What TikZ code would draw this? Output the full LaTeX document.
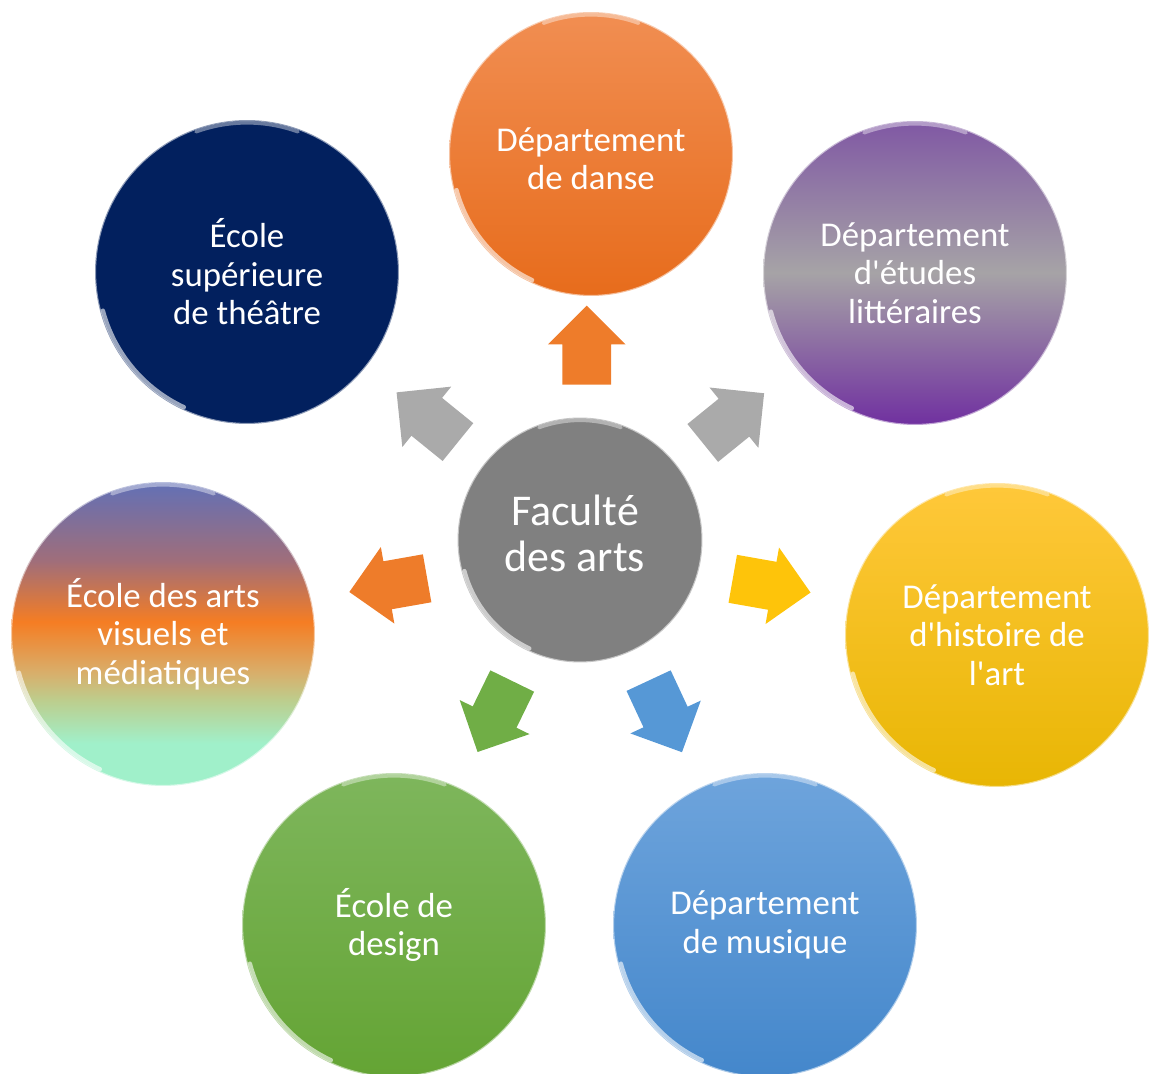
\documentclass[tikz,border=0pt]{standalone}
\usepackage{fontspec}
\newfontfamily\carlito{Carlito}
\usetikzlibrary{calc}
\usetikzlibrary{shapes.arrows}
\definecolor{danseA}{RGB}{241,142,82}
\definecolor{danseB}{RGB}{231,108,28}
\definecolor{navy}{RGB}{2,32,94}
\definecolor{litA}{RGB}{128,88,164}
\definecolor{litM}{RGB}{166,163,166}
\definecolor{litB}{RGB}{112,48,160}
\definecolor{hisA}{RGB}{255,200,58}
\definecolor{hisB}{RGB}{232,182,4}
\definecolor{musA}{RGB}{110,164,220}
\definecolor{musB}{RGB}{68,135,203}
\definecolor{desA}{RGB}{126,182,92}
\definecolor{desB}{RGB}{100,164,52}
\definecolor{hubgray}{RGB}{128,128,128}
\definecolor{arrgray}{RGB}{170,170,170}
\definecolor{arrorange}{RGB}{238,124,42}
\definecolor{arryellow}{RGB}{254,196,10}
\definecolor{arrblue}{RGB}{86,152,214}
\definecolor{arrgreen}{RGB}{112,174,70}
\definecolor{visA}{RGB}{98,112,182}
\definecolor{visB}{RGB}{160,110,122}
\definecolor{visC}{RGB}{245,125,35}
\definecolor{visD}{RGB}{218,172,104}
\definecolor{visE}{RGB}{188,206,142}
\definecolor{visF}{RGB}{160,240,202}
\pgfdeclareverticalshading{artsvisuels}{100bp}{color(0bp)=(visF); color(32bp)=(visF); color(39bp)=(visE); color(44bp)=(visD); color(52bp)=(visC); color(62bp)=(visB); color(75bp)=(visA); color(100bp)=(visA)}
\tikzset{gloss/.style={path picture={
    \draw[white,opacity=0.6,line width=2.4pt,line cap=round] let \p1=($(path picture bounding box.east)-(path picture bounding box.center)$) in
        ($(path picture bounding box.center)+(195:\x1-1.6pt)$) arc[start angle=195,end angle=245,radius=\x1-1.6pt];
    \draw[white,opacity=0.4,line width=2pt,line cap=round] let \p1=($(path picture bounding box.east)-(path picture bounding box.center)$) in
        ($(path picture bounding box.center)+(70:\x1-1.6pt)$) arc[start angle=70,end angle=110,radius=\x1-1.6pt];}}}
\tikzset{bubble/.style={circle,gloss,draw=white,draw opacity=0.55,line width=1.2pt,minimum size=6.08cm,inner sep=0pt,text=white,align=center,font=\carlito\fontsize{19.8}{21.9}\selectfont}}
\tikzset{hub/.style={bubble,minimum size=4.9cm,font=\carlito\fontsize{25}{26.2}\selectfont}}
\tikzset{blockarrow/.style={single arrow,anchor=tip,minimum height=1.58cm,inner xsep=0pt,inner ysep=0.48cm,single arrow head extend=0.29cm,single arrow head indent=0pt}}

\begin{document}
\begin{tikzpicture}[x=0.02cm,y=-0.02cm]
    \useasboundingbox (0,0) rectangle (1150,1074);
    \node[hub,fill=hubgray] (fac) at (580,540) {Faculté\hspace*{0.2cm}\\des arts\hspace*{0.2cm}\rule[-0.28cm]{0pt}{0pt}};
    \node[bubble,minimum size=5.68cm,top color=danseA,bottom color=danseB] (dan) at (591,154) {\\[-0.1cm]Département\\de danse};
    \node[bubble,fill=navy] (the) at (247,272) {École\\supérieure\\de théâtre};
    \node[bubble,top color=litA,bottom color=litB,middle color=litM] (lit) at (915,273) {Département\\d'études\\littéraires};
    \node[bubble,top color=hisA,bottom color=hisB] (his) at (997,635) {Département\\d'histoire de\\l'art};
    \node[bubble,top color=musA,bottom color=musB] (mus) at (765,925) {Département\\de musique};
    \node[bubble,top color=desA,bottom color=desB] (des) at (394,925) {École de\\design};
    \node[bubble,shading=artsvisuels] (vis) at (163,634) {École des arts\\visuels et\\médiatiques};
    % arrows from the hub
    \node[blockarrow,fill=arrorange,rotate=90] (adan) at ($(fac)!4.7cm!(dan)$) {};
    \node[blockarrow,fill=arrgray,rotate=141] (athe) at ($(fac)!4.72cm!(the)$) {};
    \node[blockarrow,fill=arrgray,rotate=39] (alit) at ($(fac)!4.72cm!(lit)$) {};
    \node[blockarrow,fill=arryellow,rotate=-10] (ahis) at ($(fac)!4.74cm!(his)$) {};
    \node[blockarrow,fill=arrblue,rotate=-65] (amus) at ($(fac)!4.72cm!(mus)$) {};
    \node[blockarrow,fill=arrgreen,rotate=244] (ades) at ($(fac)!4.72cm!(des)$) {};
    \node[blockarrow,fill=arrorange,rotate=190] (avis) at ($(fac)!4.74cm!(vis)$) {};
\end{tikzpicture}
\end{document}
